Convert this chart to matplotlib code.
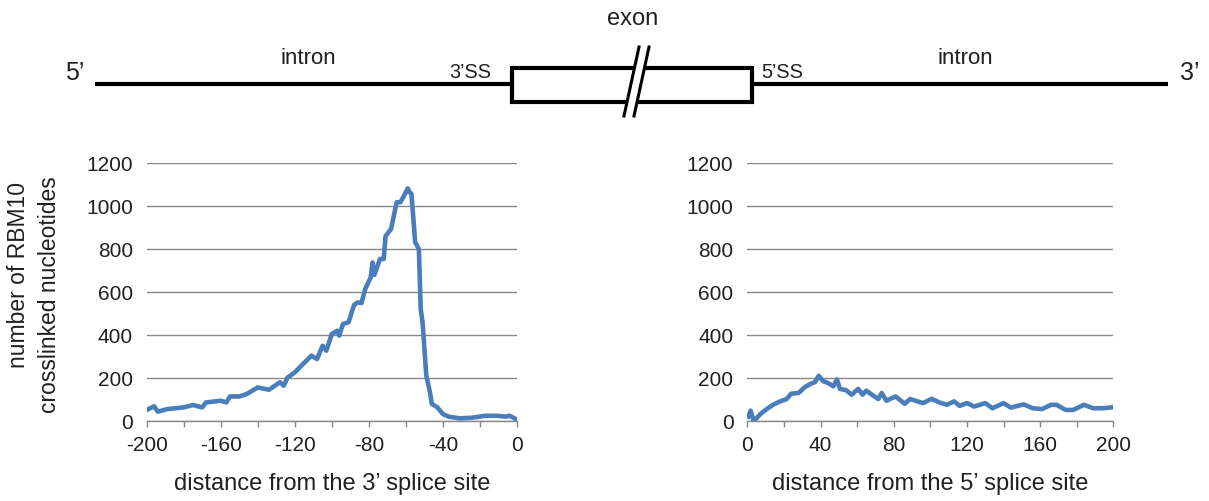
import matplotlib
matplotlib.use("Agg")
import matplotlib.pyplot as plt
from matplotlib.patches import Rectangle, Polygon

plt.rcParams["font.family"] = ["Liberation Sans", "DejaVu Sans"]
plt.rcParams["axes.unicode_minus"] = False

TEXT = "#231F20"
GRID = "#878787"
BLUE = "#4A7EBB"

# distance from the 3' splice site (intron upstream of exon)
left_pos = [-200, -196, -194, -189, -180, -175, -170, -168, -160, -157, -155, -150, -146,
            -140, -134, -128, -126, -124, -120, -115, -111, -108, -105, -103, -100, -97,
            -96, -94, -91, -88, -86, -84, -82, -79, -78, -77, -74, -72, -71, -68, -65,
            -63, -61, -59, -58, -57, -55, -53, -52, -51, -49, -47, -46, -43, -40, -37,
            -31, -24, -17, -11, -6, -4, 0]
left_counts = [50, 67, 42, 54, 62, 73, 62, 85, 93, 85, 113, 113, 124,
               155, 144, 179, 163, 200, 225, 269, 303, 287, 349, 326, 404, 419,
               396, 450, 458, 539, 551, 548, 613, 668, 737, 679, 753, 753, 859, 893, 1017,
               1017, 1048, 1082, 1064, 1056, 831, 800, 520, 458, 210, 132, 78, 62, 31, 19,
               11, 14, 23, 23, 19, 23, 5]

# distance from the 5' splice site (intron downstream of exon)
right_pos = [0.5, 1.8, 3.3, 5, 7, 10.6, 14, 18, 21.5, 24, 28, 31.5, 35, 37, 39,
             41.5, 44, 47, 49, 50.6, 54, 57, 60.6, 63, 65, 68.8, 71.6, 73.4, 76, 81,
             86, 89, 96, 100.7, 105, 109, 113, 116, 120, 124, 130, 134, 140, 144, 151,
             156, 161, 166, 169, 174, 178, 184, 189, 194.5, 200]
right_counts = [19, 47, 3, 11, 30, 54, 74, 90, 101, 126, 129, 157, 173, 180, 209,
                184, 176, 160, 192, 148, 142, 121, 148, 121, 140, 117, 101, 129, 93, 113,
                79, 101, 82, 102, 85, 74, 90, 69, 82, 66, 82, 58, 82, 61, 76,
                58, 54, 74, 74, 50, 50, 74, 58, 58, 63]

y_ticks = [0, 200, 400, 600, 800, 1000, 1200]

W, H = 1209, 502
fig = plt.figure(figsize=(W / 100, H / 100), dpi=100)

# gene diagram drawn in pixel coordinates
top = fig.add_axes([0, 0, 1, 1])
top.set_xlim(0, W)
top.set_ylim(H, 0)
top.axis("off")
top.plot([95, 512], [85, 85], color="k", lw=3, solid_capstyle="butt")
top.plot([752, 1168], [85, 85], color="k", lw=3, solid_capstyle="butt")
top.add_patch(Rectangle((512, 68.5), 240, 34, facecolor="white", edgecolor="k", lw=3))
top.add_patch(Polygon([(639, 48), (649, 48), (634, 117), (624, 117)],
                      closed=True, facecolor="white", edgecolor="none", zorder=3))
top.plot([639, 624], [48, 117], color="k", lw=2.2, zorder=4)
top.plot([649, 634], [48, 117], color="k", lw=2.2, zorder=4)
top.text(75, 73, "5’", fontsize=18, color=TEXT, ha="center", va="center")
top.text(1190, 73, "3’", fontsize=18, color=TEXT, ha="center", va="center")
top.text(308, 58, "intron", fontsize=16, color=TEXT, ha="center", va="center")
top.text(965, 58, "intron", fontsize=16, color=TEXT, ha="center", va="center")
top.text(470, 73, "3’SS", fontsize=14.3, color=TEXT, ha="center", va="center")
top.text(782, 73, "5’SS", fontsize=14.3, color=TEXT, ha="center", va="center")
top.text(633, 19, "exon", fontsize=17, color=TEXT, ha="center", va="center")

y0, y1 = 421.7, 164
ax_left = fig.add_axes([146.7 / W, 1 - y0 / H, 370.3 / W, (y0 - y1) / H])
ax_right = fig.add_axes([747.3 / W, 1 - y0 / H, 366 / W, (y0 - y1) / H])

for ax, pos, counts, xlim, label in [
        (ax_left, left_pos, left_counts, (-200, 0), "distance from the 3’ splice site"),
        (ax_right, right_pos, right_counts, (0, 200), "distance from the 5’ splice site")]:
    ax.patch.set_visible(False)
    ax.plot(pos, counts, color=BLUE, lw=3.3, solid_joinstyle="round", zorder=3)
    ax.set_xlim(*xlim)
    ax.set_ylim(0, 1200)
    ax.set_yticks(y_ticks)
    ax.set_xticks(range(xlim[0], xlim[1] + 1, 40))
    ax.set_xticks(range(xlim[0], xlim[1] + 1, 20), minor=True)
    for s in ["left", "right", "top"]:
        ax.spines[s].set_visible(False)
    ax.spines["bottom"].set_color(GRID)
    ax.spines["bottom"].set_linewidth(1)
    ax.grid(axis="y", color=GRID, lw=1)
    ax.set_axisbelow(True)
    ax.tick_params(axis="y", length=0, pad=10, labelsize=15, labelcolor=TEXT)
    ax.tick_params(axis="x", which="both", direction="out", length=4, width=1,
                   color=GRID, pad=6, labelsize=15, labelcolor=TEXT)
    ax.set_xlabel(label, fontsize=17, color=TEXT, labelpad=13)

fig.text(19 / W, 1 - 275 / H, "number of RBM10", rotation=90, fontsize=16.5,
         color=TEXT, ha="center", va="center")
fig.text(50 / W, 1 - 295 / H, "crosslinked nucleotides", rotation=90, fontsize=16.5,
         color=TEXT, ha="center", va="center")

fig.savefig("out.png", dpi=100)
